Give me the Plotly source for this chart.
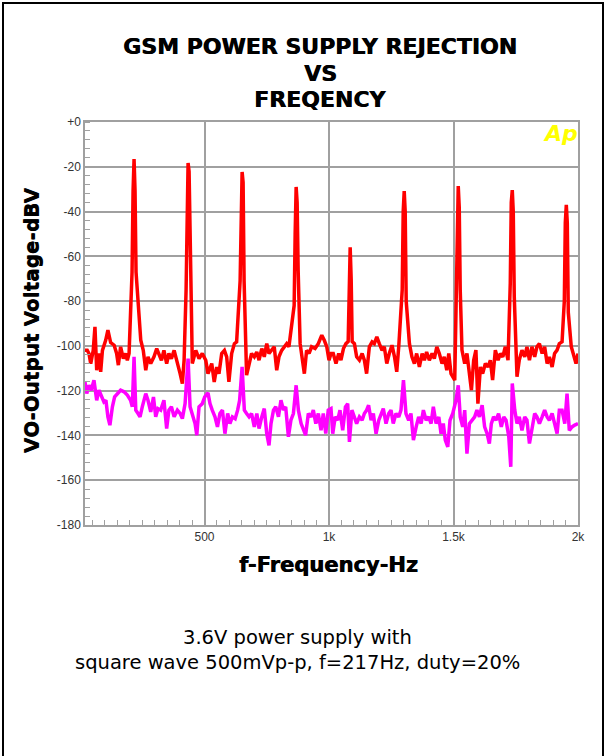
import plotly.graph_objects as go

# ---------------- data ----------------
# Red trace: noise floor points (Hz, dBV)
red_floor_f = [20, 29, 36, 43, 53, 60, 67, 76, 83, 90, 103, 112, 123, 137, 147, 154, 163, 174, 183, 190, 197,
               244, 254, 264, 273, 284, 297, 308, 317, 327, 337, 348, 357, 367, 378, 391, 402, 411, 418,
               451, 465, 478, 491, 505, 514, 529, 539, 549, 558, 569, 580, 589, 598, 609, 620, 629,
               669, 679, 689, 700, 710, 719, 730, 740, 750, 759, 770, 780, 790, 799, 810, 821, 830, 839,
               884, 893, 901, 910, 920, 930, 944, 957, 971, 981, 991, 1000, 1008, 1017, 1028, 1039, 1048, 1058, 1068,
               1102, 1111, 1122, 1133, 1142, 1151, 1162, 1173, 1182, 1192, 1202, 1213, 1222, 1232, 1242, 1253, 1263, 1272, 1280,
               1323, 1333, 1343, 1352, 1363, 1374, 1383, 1392, 1403, 1414, 1423, 1433, 1443, 1454, 1463, 1473, 1481, 1490, 1505,
               1534, 1545, 1554, 1564, 1572, 1581, 1590, 1598, 1608, 1617, 1628, 1639, 1648, 1657, 1668, 1679, 1688, 1698, 1708, 1719,
               1755, 1764, 1775, 1786, 1795, 1805, 1815, 1826, 1835, 1845, 1856, 1866, 1876, 1885, 1896, 1906, 1916, 1925, 1936,
               1973, 1983, 1992, 2000]
red_floor_db = [-102, -102, -103.4, -108, -102, -91.5, -110.9, -103.4, -111.6, -102, -97.5, -93, -98.5, -99.7, -103.4, -108.6, -100.4, -105.7, -103.4, -106.4, -103.4,
                -97.5, -102, -110.9, -104.9, -107.9, -104.9, -101.2, -103.4, -106.4, -102, -107.9, -103.4, -105.7, -102, -107.1, -112.4, -116.8, -106.4,
                -107.9, -102, -105.7, -103.4, -106.4, -112.4, -107.9, -116.1, -109.4, -112.4, -103.4, -102, -104.9, -116.1, -103.4, -99, -98.2,
                -113.1, -107.9, -103.4, -104.9, -102.7, -106.4, -101.2, -104.9, -99, -103.4, -102, -100.4, -110.9, -104.9, -102, -100.4, -99, -100.4,
                -99, -106.4, -112.4, -102, -103.4, -100.4, -101.2, -99, -95.2, -97.5, -100.4, -106.4, -103.4, -103.4, -107.9, -103.4, -106.4, -101.2, -99,
                -99, -104.9, -106.4, -103.4, -106.4, -112.4, -100.4, -98.2, -99, -96, -99, -102, -100.4, -107.9, -103.4, -99.7, -104.9, -111.6, -100.4,
                -99, -104.9, -107.9, -103.4, -109.4, -103.4, -106.4, -102.7, -106.4, -103.4, -105.7, -100.4, -103.4, -107.9, -104.9, -110.9, -103.4, -112.4, -115.3,
                -101.9, -107.9, -103.4, -113.8, -119.8, -106.4, -101.9, -125.8, -109.4, -112.4, -107.9, -109.4, -106.4, -115.3, -101.9, -106.4, -103.4, -104.9, -100.4, -106.4,
                -113.8, -106.4, -101.9, -104.9, -100.4, -106.4, -100.4, -104.9, -100.4, -99, -103.4, -100.4, -107.9, -104.9, -109.4, -103.4, -101.9, -99, -98.2,
                -100.4, -104.9, -107.9, -103.4]

# Red trace: harmonic peaks of 217 Hz (points at f-8, f-4, f, f+4, f+8)
red_peak_f = [209, 213, 217, 221, 225,
              426, 430, 434, 438, 442,
              643, 647, 651, 655, 659,
              860, 864, 868, 872, 876,
              1077, 1081, 1085, 1089, 1093,
              1294, 1298, 1302, 1306, 1310,
              1511, 1515, 1519, 1523, 1527,
              1728, 1732, 1736, 1740, 1744,
              1945, 1949, 1953, 1957, 1961]
red_peak_db = [-67, -31, -16.5, -31, -67,
               -75, -28, -18.3, -22, -56,
               -71, -37, -22.3, -27, -71,
               -82, -50, -29, -36, -66,
               -98, -70, -56, -70, -98,
               -75, -40, -30.8, -40, -80,
               -70, -35, -28.6, -38, -75,
               -72, -36, -30.4, -40, -78,
               -80, -45, -37, -45, -85]

# Magenta trace (Hz, dBV)
mag_f = [20, 27, 36, 45, 56, 67, 76, 86, 96, 104, 112, 120, 130, 139, 150, 163, 177, 190, 203, 210, 217,
         224, 233, 241, 250, 264, 273, 284, 295, 304, 313, 324, 337, 348, 357, 367, 378, 391, 402, 411, 422, 434,
         442, 451, 462, 469, 478, 491, 501, 514, 522, 531, 542, 552, 562, 572, 582, 593, 602, 612, 623, 633, 641, 651,
         660, 669, 679, 689, 700, 710, 719, 730, 740, 750, 759, 767, 777, 786, 797, 807, 817, 826, 837, 847, 857, 868,
         877, 888, 897, 906, 917, 928, 937, 947, 957, 968, 977, 987, 997, 1008, 1015, 1025, 1035, 1044, 1055, 1066, 1075,
         1082, 1092, 1102, 1111, 1122, 1133, 1142, 1151, 1159, 1169, 1178, 1189, 1200, 1209, 1218, 1229, 1240, 1249, 1258,
         1269, 1280, 1289, 1299, 1309, 1320, 1329, 1339, 1350, 1360, 1370, 1379, 1390, 1400, 1410, 1419, 1430, 1441, 1450,
         1459, 1467, 1477, 1486, 1497, 1510, 1519, 1527, 1537, 1545, 1554, 1564, 1574, 1585, 1594, 1604, 1615, 1625, 1635,
         1644, 1652, 1661, 1671, 1681, 1692, 1702, 1711, 1722, 1730, 1736, 1746, 1755, 1764, 1775, 1786, 1795, 1805, 1815,
         1826, 1835, 1845, 1856, 1866, 1876, 1885, 1896, 1906, 1916, 1925, 1936, 1947, 1956, 1965, 1976, 1987, 2000]
mag_db = [-116.1, -121.3, -117.6, -119.8, -115.3, -124.3, -119.8, -122.8, -125, -124.3, -131.7, -135.4, -127.2, -122.8, -121.3, -119.8, -120.5, -122, -124.3, -127.2, -104.9,
          -128.7, -130.2, -131.7, -127.2, -121.3, -124.3, -129.5, -122.8, -131.7, -128, -128.7, -124.3, -136.9, -128.7, -127.2, -131.7, -128.7, -130.2, -132.5, -125.8, -105.7,
          -127.2, -130.2, -134.7, -139.9, -127.2, -125.8, -122.8, -121.0, -125.8, -128.7, -131.7, -136.2, -130.2, -128.7, -139.2, -130.2, -134.7, -131.7, -132.5, -128.7, -124.3, -109.4,
          -128.7, -130.2, -131.7, -130.2, -136.2, -130.2, -136.9, -131.7, -128, -139.2, -144.4, -134.7, -128.7, -127.2, -131.7, -124.3, -128.7, -127.2, -140.6, -133.2, -130.2, -117.6,
          -128.7, -134.7, -137.7, -139.9, -130.2, -131.7, -128.7, -134.7, -130.2, -137.7, -130.2, -139.2, -128.7, -128, -139.2, -131.7, -133.2, -128.7, -137.7, -127.2, -125.8,
          -142.9, -128.7, -131.7, -134.7, -131.7, -133.2, -130.2, -128.7, -126.5, -133.2, -130.2, -139.2, -133.2, -130.2, -128, -134.7, -130.2, -128.7, -134.7,
          -130.2, -131.7, -128.7, -115.3, -130.2, -133.2, -130.2, -142.1, -136.2, -131.7, -134.7, -128.7, -133.2, -131.7, -134.7, -127.2, -134.7, -131.7, -139.2,
          -134.7, -142.1, -145.1, -133.2, -130.2, -124.3, -117.6, -131.7, -136.2, -128.7, -148.1, -134.7, -133.2, -131.7, -128.7, -131.7, -126.5, -136.2, -139.2,
          -143.6, -134.7, -131.7, -133.2, -130.2, -136.2, -131.7, -133.2, -140.6, -154, -116.8, -128.7, -134.7, -131.7, -137.7, -131.7, -133.2, -143.6, -136.2,
          -130.2, -131.7, -134.7, -131.7, -128.7, -131.7, -133.2, -130.2, -134.7, -139.2, -128.7, -128.7, -134.7, -121.3, -137.7, -136.2, -135.4, -134.7]

x_tickvals = [500, 1000, 1500, 2000]
x_ticktext = ["500", "1k", "1.5k", "2k"]
y_tickvals = [0, -20, -40, -60, -80, -100, -120, -140, -160, -180]
y_ticktext = ["+0", "-20", "-40", "-60", "-80", "-100", "-120", "-140", "-160", "-180"]

title_lines = ["GSM POWER SUPPLY REJECTION", "VS", "FREQENCY"]
caption_lines = ["3.6V power supply with", "square wave 500mVp-p, f=217Hz, duty=20%"]

# merge red floor and peaks, sorted by frequency
red_pairs = sorted(zip(red_floor_f + red_peak_f, red_floor_db + red_peak_db))
red_f = [p[0] for p in red_pairs]
red_db = [p[1] for p in red_pairs]

W, H = 607, 756
L, R, T, B = 85, 578, 122, 525

fig = go.Figure()
fig.add_trace(go.Scatter(x=mag_f, y=mag_db, mode="lines",
                         line=dict(color="#FF00FF", width=3.5), showlegend=False))
fig.add_trace(go.Scatter(x=red_f, y=red_db, mode="lines",
                         line=dict(color="#FF0000", width=3.5), showlegend=False))

grid_col = "#A0A0A0"
tick_font = dict(family="Liberation Sans, Arial, sans-serif", size=12, color="#333333")

fig.update_xaxes(range=[20, 2000], tickvals=x_tickvals, ticktext=x_ticktext,
                 showgrid=True, gridcolor=grid_col, gridwidth=1.5,
                 showline=True, linecolor=grid_col, linewidth=1.5, mirror=True,
                 ticks="", tickfont=tick_font, zeroline=False,
                 minor=dict(ticks="inside", dtick=50, tick0=0, ticklen=5, tickcolor=grid_col,
                            tickwidth=1, showgrid=False))
fig.update_yaxes(range=[-180, 0], tickvals=y_tickvals, ticktext=y_ticktext,
                 showgrid=True, gridcolor=grid_col, gridwidth=1.5,
                 showline=True, linecolor=grid_col, linewidth=1.5, mirror=True,
                 ticks="", tickfont=tick_font, zeroline=False,
                 minor=dict(ticks="inside", dtick=4, tick0=0, ticklen=5, tickcolor=grid_col,
                            tickwidth=1, showgrid=False))

def px_x(px):
    return (px - L) / (R - L)

def px_y(py):
    return (B - py) / (B - T)

annotations = []
heavy = "DejaVu Sans, Arial Black, sans-serif"
for i, (txt, py) in enumerate(zip(title_lines, [46, 73, 100])):
    annotations.append(dict(text="<b>" + txt + "</b>", x=px_x(320), y=px_y(py), xref="paper", yref="paper",
                            showarrow=False, xanchor="center", yanchor="middle",
                            font=dict(family=heavy, size=22, color="#000000", shadow="0.6px 0 0 #000000")))
annotations.append(dict(text="<b>f-Frequency-Hz</b>", x=px_x(328), y=px_y(565), xref="paper", yref="paper",
                        showarrow=False, xanchor="center", yanchor="middle",
                        font=dict(family=heavy, size=21, color="#000000", shadow="0.6px 0 0 #000000")))
annotations.append(dict(text="<b>VO-Output Voltage-dBV</b>", x=px_x(31), y=px_y(320), xref="paper", yref="paper",
                        showarrow=False, xanchor="center", yanchor="middle", textangle=-90,
                        font=dict(family=heavy, size=20, color="#000000", shadow="0 0.6px 0 #000000")))
annotations.append(dict(text="<b><i>Ap</i></b>", x=px_x(560), y=px_y(133), xref="paper", yref="paper",
                        showarrow=False, xanchor="center", yanchor="middle",
                        font=dict(family="DejaVu Sans, sans-serif", size=22, color="#FFFF00")))
for txt, py in zip(caption_lines, [637, 662]):
    annotations.append(dict(text=txt, x=px_x(297), y=px_y(py), xref="paper", yref="paper",
                            showarrow=False, xanchor="center", yanchor="middle",
                            font=dict(family="DejaVu Sans, sans-serif", size=19.5, color="#000000")))

shapes = [dict(type="rect", xref="paper", yref="paper",
               x0=px_x(3), x1=px_x(603), y0=px_y(800), y1=px_y(3),
               line=dict(color="#000000", width=2), fillcolor="rgba(0,0,0,0)", layer="above")]

fig.update_layout(width=W, height=H, margin=dict(l=L, r=W - R, t=T, b=H - B, pad=0),
                  paper_bgcolor="white", plot_bgcolor="white",
                  annotations=annotations, shapes=shapes, showlegend=False)

fig.write_html("out.html")
